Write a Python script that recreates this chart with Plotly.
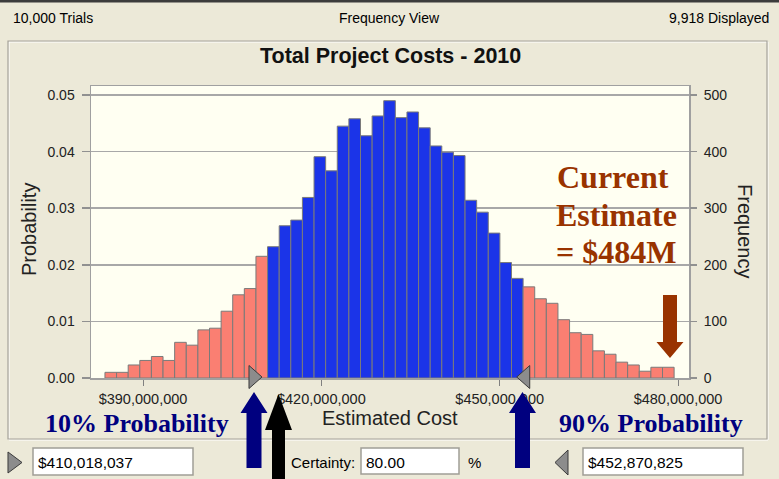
import plotly.graph_objects as go

# ---------------- data ----------------
trials = 10000
displayed = 9918
counts_below = [10, 10, 23, 31, 38, 31, 63, 58, 85, 88, 118, 147, 158, 215]
counts_within = [232, 269, 279, 319, 391, 366, 445, 458, 428, 463, 490, 460, 470,
                 442, 410, 399, 393, 314, 293, 256, 204, 176]
counts_above = [161, 140, 132, 103, 80, 77, 48, 42, 28, 23, 12, 19, 19]
hist_min = 383.6e6
bin_width = 1.954e6
certainty_low = 410018037
certainty_high = 452870825
certainty_pct = 80.00
current_estimate = 484e6
x_ticks = [390e6, 420e6, 450e6, 480e6]
prob_ticks = [0.0, 0.01, 0.02, 0.03, 0.04, 0.05]
freq_ticks = [0, 100, 200, 300, 400, 500]
title_text = "Total Project Costs - 2010"

# ---------------- styles ----------------
W, H = 779, 479
L, T, R, B = 91, 86, 689, 378
BG = "#ECE9D8"
PLOT_BG = "#FFFFF2"
SALMON = "#FA7F72"
BLUE = "#1B34E8"
NAVY = "#00007F"
BROWN = "#993300"
SANS = "Arial, Liberation Sans, sans-serif"
SERIF = "Times New Roman, Liberation Serif, serif"


def px(x):
    return (x - L) / (R - L)


def py(y):
    return (B - y) / (B - T)


counts = counts_below + counts_within + counts_above
colors = [SALMON] * len(counts_below) + [BLUE] * len(counts_within) + [SALMON] * len(counts_above)
centers = [hist_min + bin_width * (i + 0.5) for i in range(len(counts))]
probs = [c / trials for c in counts]

fig = go.Figure()
fig.add_trace(go.Bar(
    x=centers, y=probs, width=[bin_width] * len(counts),
    marker=dict(color=colors, line=dict(color="#7A7A7A", width=1)),
    hoverinfo="skip", showlegend=False, yaxis="y",
))
fig.add_trace(go.Scatter(
    x=[centers[0]], y=[0], mode="markers", marker=dict(opacity=0),
    hoverinfo="skip", showlegend=False, yaxis="y2",
))

x_lo = 390e6 - (143 - L) / 5.944 * 1e6
x_hi = 480e6 + (R - 678) / 5.944 * 1e6
y_top = 0.05 * (B - T) / (B - 95)


def xdata_to_paper(v):
    return (v - x_lo) / (x_hi - x_lo)


fig.update_layout(
    width=W, height=H,
    margin=dict(l=L, r=W - R, t=T, b=H - B, pad=0),
    paper_bgcolor=BG, plot_bgcolor=PLOT_BG,
    bargap=0,
    xaxis=dict(
        range=[x_lo, x_hi], tickvals=x_ticks, tickformat="$,.0f",
        ticks="outside", ticklen=6, tickcolor="#808080", tickwidth=1,
        showline=True, linecolor="#A0A0A0", linewidth=1.5, mirror=True,
        showgrid=False, zeroline=False,
        tickfont=dict(family=SANS, size=14.5, color="#222222"),
        ticklabelstandoff=1,
    ),
    yaxis=dict(
        range=[0, y_top], tickvals=prob_ticks, tickformat=".2f",
        ticks="outside", ticklen=8, tickcolor="#909090", tickwidth=1.5,
        showline=True, linecolor="#A0A0A0", linewidth=1.5, mirror=True,
        showgrid=True, gridcolor="#A8A8A8", gridwidth=1.5, zeroline=False,
        tickfont=dict(family=SANS, size=14, color="#222222"),
        ticklabelstandoff=4,
    ),
    yaxis2=dict(
        range=[0, trials * y_top], tickvals=freq_ticks, overlaying="y", side="right",
        anchor="x", ticks="outside", ticklen=7, tickcolor="#909090", tickwidth=1.5,
        showgrid=False, zeroline=False, showline=False,
        tickfont=dict(family=SANS, size=14, color="#222222"),
        ticklabelstandoff=4,
    ),
)

shapes = []
# top dark strip
shapes.append(dict(type="rect", xref="paper", yref="paper", x0=px(0), x1=px(W), y0=py(0), y1=py(2.5),
                   fillcolor="#3C3C3C", line=dict(width=0), layer="above"))
# panel frame (etched)
shapes.append(dict(type="rect", xref="paper", yref="paper", x0=px(9), x1=px(768), y0=py(42), y1=py(440),
                   line=dict(color="#FFFFFF", width=1), layer="below"))
shapes.append(dict(type="rect", xref="paper", yref="paper", x0=px(8), x1=px(767), y0=py(41), y1=py(439),
                   line=dict(color="#A5A29A", width=1.2), layer="below"))

# text boxes
for (x0, x1, y0, y1) in [(33, 193, 448, 475), (361, 459, 448, 474), (583, 743, 448, 475)]:
    shapes.append(dict(type="rect", xref="paper", yref="paper", x0=px(x0), x1=px(x1), y0=py(y0), y1=py(y1),
                       fillcolor="#FFFFFF", line=dict(color="#A09E96", width=1.5), layer="above"))


def poly(points):
    return "M " + " L ".join(f"{px(x):.5f},{py(y):.5f}" for x, y in points) + " Z"


# small triangles next to text boxes
shapes.append(dict(type="path", xref="paper", yref="paper",
                   path=poly([(8, 452), (22, 462.5), (8, 473)]),
                   fillcolor="#8C8C8C", line=dict(color="#3A3A3A", width=1), layer="above"))
shapes.append(dict(type="path", xref="paper", yref="paper",
                   path=poly([(568, 450), (555, 462.5), (568, 475)]),
                   fillcolor="#8C8C8C", line=dict(color="#3A3A3A", width=1), layer="above"))

# grabbers at certainty limits (anchored at the data values, sized in pixels)
shapes.append(dict(type="path", xref="paper", yref="paper", xsizemode="pixel", ysizemode="pixel",
                   xanchor=xdata_to_paper(certainty_low), yanchor=py(377),
                   path="M -13,11.5 L 0,0 L -13,-11.5 Z",
                   fillcolor="#8C8C8C", line=dict(color="#3A3A3A", width=1), layer="above"))
shapes.append(dict(type="path", xref="paper", yref="paper", xsizemode="pixel", ysizemode="pixel",
                   xanchor=xdata_to_paper(certainty_high), yanchor=py(377),
                   path="M 13,11.5 L 0,0 L 13,-11.5 Z",
                   fillcolor="#8C8C8C", line=dict(color="#3A3A3A", width=1), layer="above"))


def up_arrow(cx, tip, base, bottom, head_hw, shaft_hw, color):
    pts = [(cx, tip), (cx + head_hw, base), (cx + shaft_hw, base), (cx + shaft_hw, bottom),
           (cx - shaft_hw, bottom), (cx - shaft_hw, base), (cx - head_hw, base)]
    return dict(type="path", xref="paper", yref="paper", path=poly(pts),
                fillcolor=color, line=dict(width=0), layer="above")


shapes.append(up_arrow(254, 392, 413, 468, 13.5, 7.5, NAVY))
shapes.append(up_arrow(522.5, 392, 413, 468, 13.5, 7.5, NAVY))
shapes.append(up_arrow(278.5, 394, 430, 482, 13.5, 6.5, "#000000"))
# brown down arrow (tip at bottom)
shapes.append(up_arrow(670, 358, 342, 295, 13.5, 7, BROWN))

fig.update_layout(shapes=shapes)


def ann(text, x, y, size, color="#000000", family=SANS, xanchor="center", angle=0, bold=False):
    if bold:
        text = f"<b>{text}</b>"
    fig.add_annotation(text=text, xref="paper", yref="paper", x=px(x), y=py(y),
                       xanchor=xanchor, yanchor="middle", showarrow=False, textangle=angle,
                       borderpad=0, font=dict(family=family, size=size, color=color))


ann(f"{trials:,} Trials", 12, 18, 14, xanchor="left")
ann("Frequency View", 389, 18, 14)
ann(f"{displayed:,} Displayed", 770, 18, 14, xanchor="right")
ann(title_text, 390, 56, 21.5, bold=True, color="#111111")
ann("Probability", 29, 230, 20, color="#222222", angle=-90)
ann("Frequency", 745, 231, 20, color="#222222", angle=90)
ann("Estimated Cost", 390, 418, 20, color="#222222")
ann("10% Probability", 137, 423, 26, color=NAVY, family=SERIF, bold=True)
ann("90% Probability", 651, 423, 26, color=NAVY, family=SERIF, bold=True)
ann("Current", 613, 177, 32, color=BROWN, family=SERIF, bold=True)
ann("Estimate", 616, 215, 32, color=BROWN, family=SERIF, bold=True)
ann(f"= ${current_estimate / 1e6:.0f}M", 616, 252, 32, color=BROWN, family=SERIF, bold=True)
ann(f"${certainty_low:,}", 37, 462, 15.5, xanchor="left")
ann("Certainty:", 290, 462, 15, xanchor="left")
ann(f"{certainty_pct:.2f}", 365, 462, 15.5, xanchor="left")
ann("%", 474, 462, 15)
ann(f"${certainty_high:,}", 587, 462, 15.5, xanchor="left")

fig.write_html(
    "out.html",
    config={"displayModeBar": False, "staticPlot": True},
    post_script="document.body.style.margin='0';document.body.style.overflow='hidden';",
)
